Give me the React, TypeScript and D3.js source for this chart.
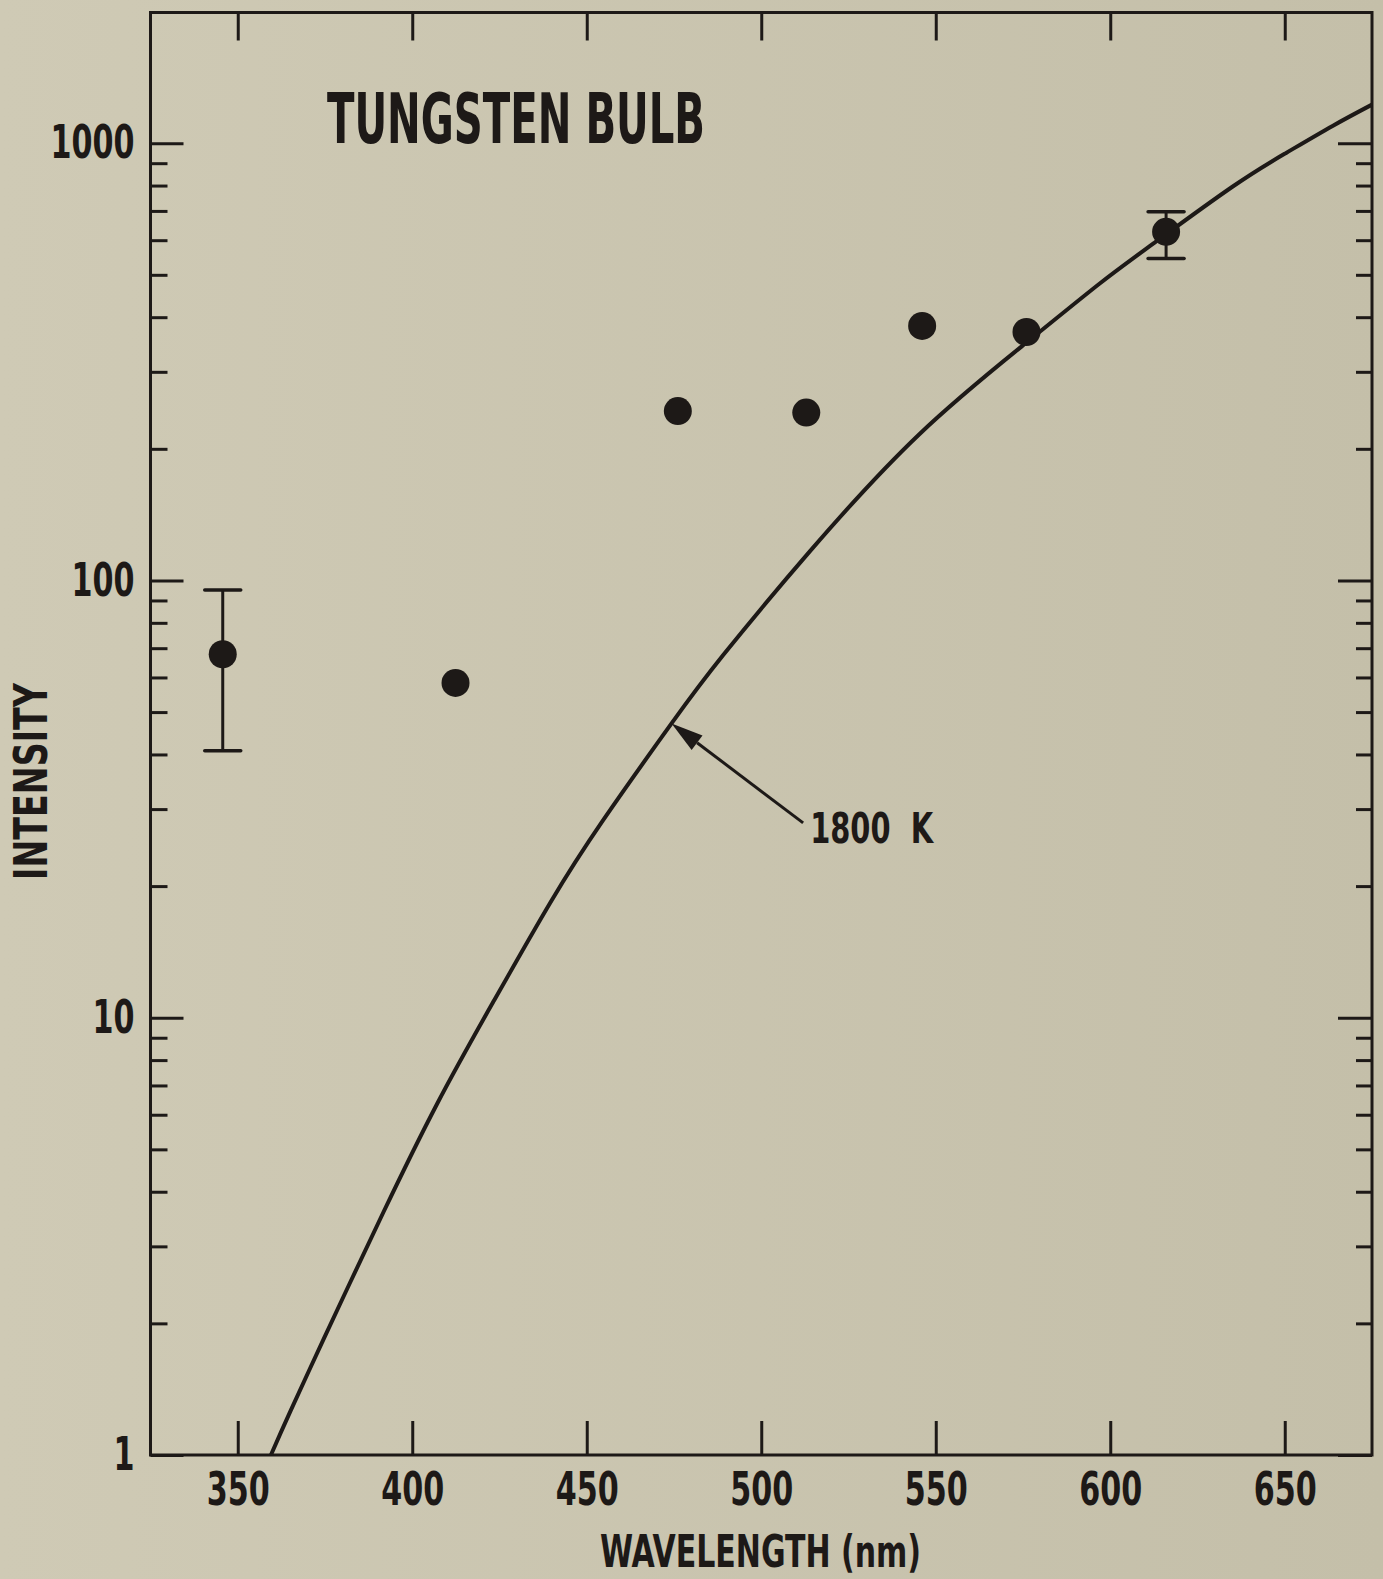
import React, { useEffect, useRef } from "react";
import * as d3 from "d3";

// measured points: wavelength (nm) and intensity
const pointWavelengths = [345.7, 412.4, 476.1, 512.9, 546.1, 576.0, 616.0];
const pointIntensities = [67.8, 58.3, 244, 242, 382, 370, 627];

// error bars on two of the points
const errorWavelengths = [345.7, 616.0];
const errorLow = [40.8, 545];
const errorHigh = [95.1, 697];

// 1800 K curve
const curveWavelengths = [
  359.5, 365.1, 374.6, 382.2, 391.8, 407.1, 423.3, 439.5, 454.7, 474.3, 489.1,
  514.1, 545.3, 576.0, 596.9, 612.3, 635.0, 650.4, 663.7, 675.0,
];
const curveIntensities = [
  1.0, 1.26, 1.84, 2.48, 3.6, 6.35, 10.9, 18.3, 28.3, 47.1, 67.5, 117, 216,
  350, 477, 589, 795, 950, 1095, 1225,
];

// annotation arrow (tip on the curve)
const arrowTip = [474.3, 47.1];
const arrowTail = [512, 27.9];
const arrowLabel = "1800  K";

// ticks
const xTicks = [350, 400, 450, 500, 550, 600, 650];
const yMajorTicks = [1, 10, 100, 1000];
const yMinorMultipliers = [2, 3, 4, 5, 6, 7, 8, 9];
const yDecades = [1, 10, 100];

const W = 1383;
const H = 1579;
const INK = "#1d1917";
const FONT =
  "'Liberation Sans Narrow', 'Arial Narrow', 'DejaVu Sans Condensed', 'DejaVu Sans', sans-serif";

const App: React.FC = () => {
  const svgRef = useRef<SVGSVGElement>(null);

  useEffect(() => {
    if (!svgRef.current) return;
    const svg = d3.select(svgRef.current);
    svg.selectAll("*").remove();

    const left = 150.5;
    const right = 1372;
    const top = 12.5;
    const bottom = 1455;

    const x = d3.scaleLinear().domain([325, 675]).range([left, right]);
    const y = d3.scaleLog().domain([1, 1990]).range([bottom, top]);

    // paper background, a touch darker to the right
    const grad = svg
      .append("defs")
      .append("linearGradient")
      .attr("id", "paper")
      .attr("x1", 0)
      .attr("x2", 1)
      .attr("y1", 0)
      .attr("y2", 0);
    grad.append("stop").attr("offset", 0).attr("stop-color", "#cfcab5");
    grad.append("stop").attr("offset", 1).attr("stop-color", "#c4bfa9");
    svg.append("rect").attr("width", W).attr("height", H).attr("fill", "url(#paper)");

    const g = svg
      .append("g")
      .attr("font-family", FONT)
      .attr("font-weight", "bold")
      .attr("fill", INK);

    const styleAxis = (sel: d3.Selection<SVGGElement, unknown, null, undefined>) => {
      sel.attr("font-family", FONT).attr("font-size", 46).attr("font-weight", "bold").style("color", INK);
      sel.select(".domain").remove();
      sel.selectAll("line").attr("stroke-width", 3);
      sel
        .selectAll<SVGTextElement, unknown>("text")
        .filter(function () {
          return (this.textContent || "").length > 0;
        })
        .attr("textLength", function () {
          return (this.textContent || "").length * 21;
        })
        .attr("lengthAdjust", "spacingAndGlyphs");
    };

    const yMinorTicks = yDecades.flatMap((d) => yMinorMultipliers.map((m) => m * d));

    // bottom
    g.append("g")
      .attr("transform", `translate(0,${bottom})`)
      .call(d3.axisBottom(x).tickValues(xTicks).tickSize(-34).tickPadding(17).tickFormat(d3.format("d")))
      .call(styleAxis);

    // top
    g.append("g")
      .attr("transform", `translate(0,${top})`)
      .call(d3.axisTop(x).tickValues(xTicks).tickSize(-28).tickFormat(() => ""))
      .call(styleAxis);

    // left
    g.append("g")
      .attr("transform", `translate(${left},0)`)
      .call(d3.axisLeft(y).tickValues(yMajorTicks).tickSize(-33).tickPadding(16).tickFormat(d3.format("d")))
      .call(styleAxis);
    g.append("g")
      .attr("transform", `translate(${left},0)`)
      .call(d3.axisLeft(y).tickValues(yMinorTicks).tickSize(-17).tickFormat(() => ""))
      .call(styleAxis);

    // right
    g.append("g")
      .attr("transform", `translate(${right},0)`)
      .call(d3.axisRight(y).tickValues(yMajorTicks).tickSize(-34).tickFormat(() => ""))
      .call(styleAxis);
    g.append("g")
      .attr("transform", `translate(${right},0)`)
      .call(d3.axisRight(y).tickValues(yMinorTicks).tickSize(-16).tickFormat(() => ""))
      .call(styleAxis);

    // frame
    g.append("rect")
      .attr("x", left)
      .attr("y", top)
      .attr("width", right - left)
      .attr("height", bottom - top)
      .attr("fill", "none")
      .attr("stroke", INK)
      .attr("stroke-width", 3);

    // curve
    const curveData = curveWavelengths.map((w, i) => [w, curveIntensities[i]] as [number, number]);
    const line = d3
      .line<[number, number]>()
      .x((d) => x(d[0]))
      .y((d) => y(d[1]))
      .curve(d3.curveNatural);
    g.append("path")
      .attr("d", line(curveData))
      .attr("fill", "none")
      .attr("stroke", INK)
      .attr("stroke-width", 4);

    // error bars
    const capHalf = 18;
    errorWavelengths.forEach((w, i) => {
      const cx = x(w);
      g.append("line")
        .attr("x1", cx).attr("x2", cx)
        .attr("y1", y(errorHigh[i])).attr("y2", y(errorLow[i]))
        .attr("stroke", INK).attr("stroke-width", 3);
      [errorHigh[i], errorLow[i]].forEach((v) => {
        g.append("line")
          .attr("x1", cx - capHalf).attr("x2", cx + capHalf)
          .attr("y1", y(v)).attr("y2", y(v))
          .attr("stroke", INK).attr("stroke-width", 3.5)
          .attr("stroke-linecap", "round");
      });
    });

    // points
    g.selectAll(".pt")
      .data(pointWavelengths.map((w, i) => [w, pointIntensities[i]]))
      .enter()
      .append("circle")
      .attr("cx", (d) => x(d[0]))
      .attr("cy", (d) => y(d[1]))
      .attr("r", 14)
      .attr("fill", INK);

    // arrow
    const tx = x(arrowTip[0]);
    const ty = y(arrowTip[1]);
    const sx = x(arrowTail[0]);
    const sy = y(arrowTail[1]);
    const ang = Math.atan2(ty - sy, tx - sx);
    const headLen = 32;
    const headW = 9;
    const bx = tx - headLen * Math.cos(ang);
    const by = ty - headLen * Math.sin(ang);
    g.append("line")
      .attr("x1", sx).attr("y1", sy).attr("x2", bx).attr("y2", by)
      .attr("stroke", INK).attr("stroke-width", 3);
    g.append("path")
      .attr(
        "d",
        `M${tx},${ty}L${bx - headW * Math.sin(ang)},${by + headW * Math.cos(ang)}L${bx + headW * Math.sin(ang)},${by - headW * Math.cos(ang)}Z`
      )
      .attr("fill", INK);
    g.append("text")
      .attr("x", sx + 7)
      .attr("y", sy + 20)
      .attr("font-size", 43)
      .attr("textLength", 123)
      .attr("lengthAdjust", "spacingAndGlyphs")
      .style("white-space", "pre")
      .text(arrowLabel);

    // titles
    g.append("text")
      .attr("x", 327)
      .attr("y", 143)
      .attr("font-size", 69)
      .attr("textLength", 378)
      .attr("lengthAdjust", "spacingAndGlyphs")
      .text("TUNGSTEN BULB");

    g.append("text")
      .attr("transform", "translate(47,781.5) rotate(-90)")
      .attr("text-anchor", "middle")
      .attr("font-size", 47)
      .attr("textLength", 197)
      .attr("lengthAdjust", "spacingAndGlyphs")
      .text("INTENSITY");

    g.append("text")
      .attr("x", 760.5)
      .attr("y", 1567)
      .attr("text-anchor", "middle")
      .attr("font-size", 44)
      .attr("textLength", 321)
      .attr("lengthAdjust", "spacingAndGlyphs")
      .text("WAVELENGTH (nm)");
  }, []);

  return (
    <svg
      ref={svgRef}
      width={W}
      height={H}
      style={{ position: "absolute", left: 0, top: 0, display: "block" }}
    />
  );
};

export default App;
